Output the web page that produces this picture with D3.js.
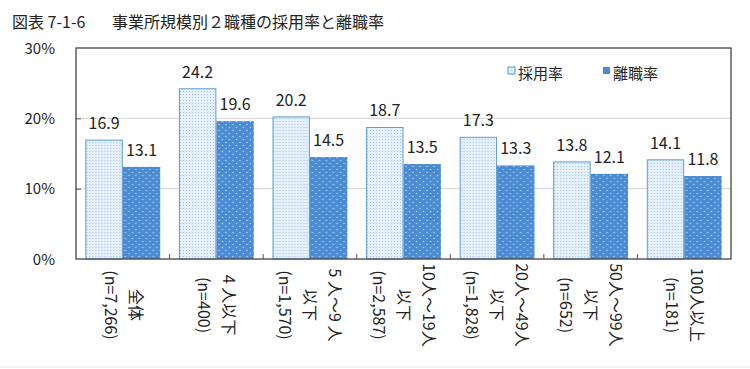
<!DOCTYPE html>
<html>
<head>
<meta charset="utf-8">
<script src="https://cdn.jsdelivr.net/npm/d3@7"></script>
<style>
  body { margin: 0; background: #fff; }
  svg { display: block; font-family: "Noto Sans CJK JP", "Noto Sans", sans-serif; }
</style>
</head>
<body>
<svg id="chart" width="750" height="369"></svg>
<script>
// categories (line order = right to left after rotation)
const categories = ['全体', '4人以下', '5人～9人以下', '10人～19人以下', '20人～49人以下', '50人～99人以下', '100人以上'];
const categoryLines = [
  ['全体', '(n=7,266)'],
  ['4 人以下', '(n=400)'],
  ['5 人～9 人', '以下', '(n=1,570)'],
  ['10人～19人', '以下', '(n=2,587)'],
  ['20人～49人', '以下', '(n=1,828)'],
  ['50人～99人', '以下', '(n=652)'],
  ['100人以上', '(n=181)']
];
const seriesNames = ['採用率', '離職率'];
const hireRate = [16.9, 24.2, 20.2, 18.7, 17.3, 13.8, 14.1];
const leaveRate = [13.1, 19.6, 14.5, 13.5, 13.3, 12.1, 11.8];
const yTicks = [0, 10, 20, 30];

const svg = d3.select('#chart');
const margin = { left: 76, right: 731, top: 48, bottom: 259 };

const x = d3.scaleBand()
  .domain(categories)
  .range([margin.left, margin.right])
  .paddingInner(0.2)
  .paddingOuter(0.1);
const xSeries = d3.scaleBand().domain(seriesNames).range([0, x.bandwidth()]);
const y = d3.scaleLinear().domain([0, 30]).range([margin.bottom, margin.top]);

// patterns
const defs = svg.append('defs');
const p1 = defs.append('pattern').attr('id', 'pat-hire')
  .attr('patternUnits', 'userSpaceOnUse').attr('width', 3).attr('height', 3);
p1.append('rect').attr('width', 3).attr('height', 3).attr('fill', '#e6f0fa');
p1.append('rect').attr('x', 1).attr('y', 1).attr('width', 1).attr('height', 1).attr('fill', '#9fc2e6');

const p2 = defs.append('pattern').attr('id', 'pat-leave')
  .attr('patternUnits', 'userSpaceOnUse').attr('width', 7).attr('height', 6);
p2.append('rect').attr('width', 7).attr('height', 6).attr('fill', '#4a8bd2');
p2.append('circle').attr('cx', 1.5).attr('cy', 1.5).attr('r', 0.8).attr('fill', '#b3d3f3');
p2.append('circle').attr('cx', 5).attr('cy', 4.5).attr('r', 0.8).attr('fill', '#b3d3f3');

const textColor = '#222';

// title
svg.append('text').attr('x', 12).attr('y', 28).attr('font-size', 16).attr('fill', textColor)
  .text('図表 7-1-6');
svg.append('text').attr('x', 112).attr('y', 28).attr('font-size', 16).attr('fill', textColor)
  .text('事業所規模別２職種の採用率と離職率');

// gridlines
svg.append('g')
  .selectAll('line')
  .data([10, 20])
  .join('line')
  .attr('x1', margin.left).attr('x2', margin.right)
  .attr('y1', d => y(d)).attr('y2', d => y(d))
  .attr('stroke', '#d4d4d4');

// y axis (ticks inside)
const yAxis = d3.axisLeft(y).tickValues(yTicks).tickSize(-5).tickPadding(21)
  .tickFormat(d => d + '%');
svg.append('g')
  .attr('transform', `translate(${margin.left},0)`)
  .call(yAxis)
  .call(g => g.select('.domain').remove())
  .call(g => g.selectAll('.tick line').attr('stroke', '#555').attr('display', d => (d === 10 || d === 20) ? null : 'none'))
  .call(g => g.selectAll('.tick text').attr('font-size', 15).attr('fill', textColor)
    .attr('font-family', '"Noto Sans CJK JP", sans-serif').attr('dy', '0.35em'));

// bars
const groups = svg.append('g')
  .selectAll('g')
  .data(categories)
  .join('g')
  .attr('transform', d => `translate(${x(d)},0)`);

groups.append('rect')
  .attr('x', xSeries('採用率') + 0.5)
  .attr('y', (d, i) => y(hireRate[i]))
  .attr('width', xSeries.bandwidth() - 1)
  .attr('height', (d, i) => y(0) - y(hireRate[i]))
  .attr('fill', 'url(#pat-hire)')
  .attr('stroke', '#5b9bd5')
  .attr('stroke-width', 1);

groups.append('rect')
  .attr('x', xSeries('離職率'))
  .attr('y', (d, i) => y(leaveRate[i]))
  .attr('width', xSeries.bandwidth())
  .attr('height', (d, i) => y(0) - y(leaveRate[i]))
  .attr('fill', 'url(#pat-leave)');

// value labels
groups.append('text')
  .attr('x', xSeries('採用率') + xSeries.bandwidth() / 2)
  .attr('y', (d, i) => y(hireRate[i]) - 11)
  .attr('text-anchor', 'middle').attr('font-size', 16).attr('fill', textColor)
  .text((d, i) => hireRate[i].toFixed(1));
groups.append('text')
  .attr('x', xSeries('離職率') + xSeries.bandwidth() / 2)
  .attr('y', (d, i) => y(leaveRate[i]) - 11)
  .attr('text-anchor', 'middle').attr('font-size', 16).attr('fill', textColor)
  .text((d, i) => leaveRate[i].toFixed(1));

// frame
svg.append('rect')
  .attr('x', margin.left).attr('y', margin.top)
  .attr('width', margin.right - margin.left).attr('height', margin.bottom - margin.top)
  .attr('fill', 'none').attr('stroke', '#444').attr('stroke-width', 1.3);

// category boundary ticks on x axis (inside)
svg.append('g')
  .selectAll('line')
  .data(categories.slice(1))
  .join('line')
  .attr('x1', d => x(d) - x.step() * x.paddingInner() / 2)
  .attr('x2', d => x(d) - x.step() * x.paddingInner() / 2)
  .attr('y1', margin.bottom).attr('y2', margin.bottom - 5)
  .attr('stroke', '#555');

// x category labels, rotated 90deg
const lineGap = 25;
categoryLines.forEach((lines, i) => {
  const cx = x(categories[i]) + x.bandwidth() / 2;
  const n = lines.length;
  lines.forEach((t, j) => {
    const lx = cx + ((n - 1) / 2 - j) * lineGap;
    svg.append('text')
      .attr('transform', `translate(${lx},305) rotate(90)`)
      .attr('text-anchor', 'middle')
      .attr('dy', '0.35em')
      .attr('font-size', 16)
      .attr('fill', textColor)
      .text(t);
  });
});

// legend
const legend = svg.append('g');
const legendX = [508, 603];
const legendFill = ['url(#pat-hire)', '#4a8bd2'];
seriesNames.forEach((s, i) => {
  legend.append('rect')
    .attr('x', legendX[i]).attr('y', 67).attr('width', 7).attr('height', 7)
    .attr('fill', legendFill[i]).attr('stroke', i === 0 ? '#5b9bd5' : 'none');
  legend.append('text')
    .attr('x', legendX[i] + 10).attr('y', 79)
    .attr('font-size', 15).attr('fill', textColor)
    .text(s);
});

// bottom edge line of original image
svg.append('line').attr('x1', 0).attr('x2', 750).attr('y1', 367).attr('y2', 367)
  .attr('stroke', '#e2e2e2');
</script>
</body>
</html>
